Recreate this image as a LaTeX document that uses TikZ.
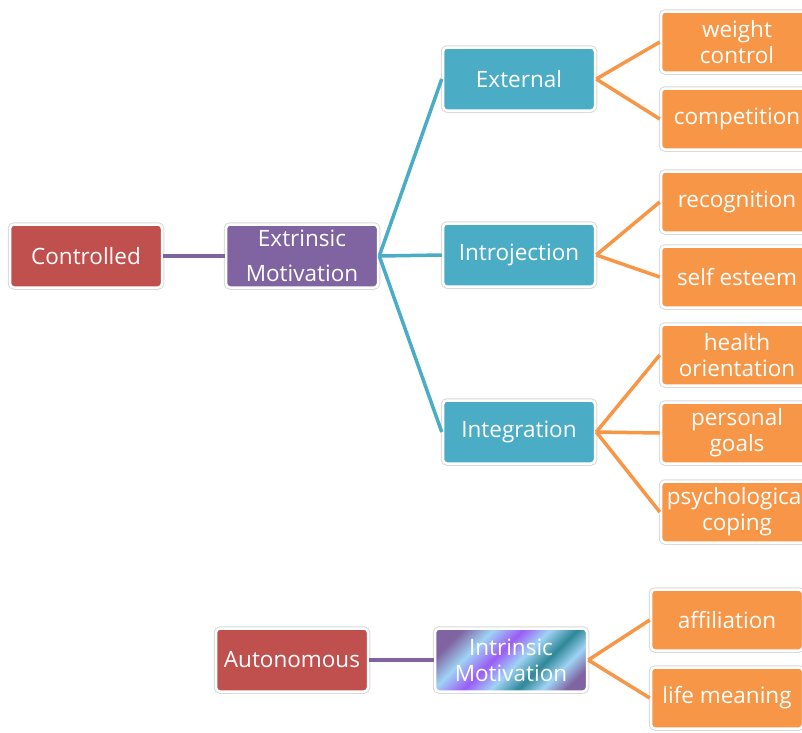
\documentclass[tikz,border=0pt]{standalone}
\usepackage{fontspec}
\setmainfont{Open Sans}
\definecolor{boxred}{HTML}{C0504D}
\definecolor{boxpurple}{HTML}{8064A2}
\definecolor{boxcyan}{HTML}{4BACC6}
\definecolor{boxorange}{HTML}{F79646}
\definecolor{stripeblue}{HTML}{9FD3F5}
\definecolor{stripeviolet}{HTML}{9B5CF5}
\definecolor{stripeteal}{HTML}{2E8797}
\pgfdeclarehorizontalshading{stripy}{100bp}{color(0bp)=(boxpurple); color(24bp)=(boxpurple); color(34bp)=(stripeblue); color(44bp)=(stripeviolet); color(53bp)=(stripeblue); color(62bp)=(stripeteal); color(70bp)=(stripeblue); color(78bp)=(boxpurple); color(100bp)=(boxpurple)}

\begin{document}
\begin{tikzpicture}[x=1pt,y=-1pt]
\tikzset{box/.style = {rounded corners=4pt, draw=white, line width=2.5pt, minimum width=152pt, minimum height=63pt, inner sep=1pt, text=white, align=center, font=\fontsize{22.5}{26}\selectfont, preaction={draw=black!15, line width=4.5pt}}}
\tikzset{link/.style = {line width=3.5pt}}

\useasboundingbox (0,0) rectangle (802,732);
\clip (0,0) rectangle (802,732);

% left column
\node[box, fill=boxred] (ctrl) at (86,256) {Controlled};
\node[box, fill=boxpurple] (extr) at (302,256) {Extrinsic\\[9pt]Motivation};
\node[box, fill=boxred] (auto) at (292,660) {Autonomous};
\node[box, shading=stripy, shading angle=-45] (intr) at (511,660) {Intrinsic\\Motivation};

% middle column
\foreach \pos/\name/\txt in {{(519,79)/ext/External}, {(519,255)/intro/Introjection}, {(519,432)/integ/Integration}}
\node[box, fill=boxcyan] (\name) at \pos {\txt};

% leaves
\foreach \pos/\name/\txt in {{(737,42)/weight/weight\\control}, {(737,119)/compet/competition}, {(737,202)/recog/recognition}, {(737,277)/selfest/self esteem}, {(737,355)/health/health\\orientation}, {(737,433)/goals/personal\\goals}, {(737,512)/coping/psychological\\coping}, {(727,620)/affil/affiliation}, {(727,698)/lifemean/life meaning}}
\node[box, fill=boxorange, minimum height=61pt] (\name) at \pos {\txt};

\draw[link, boxpurple] (ctrl) -- (extr);
\draw[link, boxpurple] (auto) -- (intr);

\foreach \to in {ext, intro, integ}
\draw[link, boxcyan] (extr.east) -- (\to.west);

\foreach \from/\to in {ext/weight, ext/compet, intro/recog, intro/selfest, integ/health, integ/goals, integ/coping, intr/affil, intr/lifemean}
\draw[link, boxorange] (\from.east) -- (\to.west);

\end{tikzpicture}
\end{document}
